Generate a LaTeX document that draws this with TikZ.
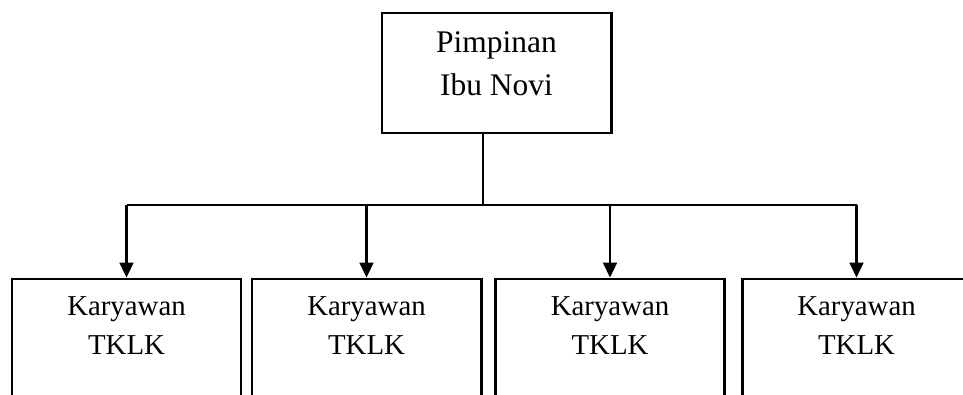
\documentclass[tikz,border=0pt]{standalone}
\usepackage{fontspec}
\setmainfont{Liberation Serif}
\usetikzlibrary{arrows.meta,positioning}

\begin{document}
\begin{tikzpicture}[
    box/.style={draw=black, line width=1.7pt, minimum width=4.58cm, minimum height=2.4cm, inner sep=0pt},
    headtext/.style={align=center, inner sep=0pt, font=\fontsize{17.9}{24.4}\selectfont},
    stafftext/.style={align=center, inner sep=0pt, font=\fontsize{16.4}{22.1}\selectfont},
    link/.style={line width=0.8pt, draw=black},
    arrowlink/.style={line width=1.3pt, draw=black, -{Triangle[width=0.28cm, length=0.3cm]}}
]
\path[use as bounding box, clip] (0,0) rectangle (19.26,7.88);

\node[box] (pimpinan) at (9.93,6.42) {};
\node[headtext, below=0.4cm of pimpinan.north] (pimpinanlabel) {Pimpinan\\Ibu Novi};

\foreach \i/\x in {1/2.53, 2/7.33, 3/12.2, 4/17.13} {
    \node[box] (karyawan\i) at (\x,1.1) {};
    \node[stafftext, below=0.38cm of karyawan\i.north] (karyawanlabel\i) {Karyawan\\TKLK};
}

\coordinate (cabang) at (9.66,3.78);
\draw[link] (pimpinan.south -| cabang) -- (cabang);
\draw[link] (karyawan1 |- cabang) -- (karyawan4 |- cabang);
\foreach \i in {1,...,4}
    \draw[arrowlink] (karyawan\i |- cabang) -- (karyawan\i.north);

\end{tikzpicture}
\end{document}
